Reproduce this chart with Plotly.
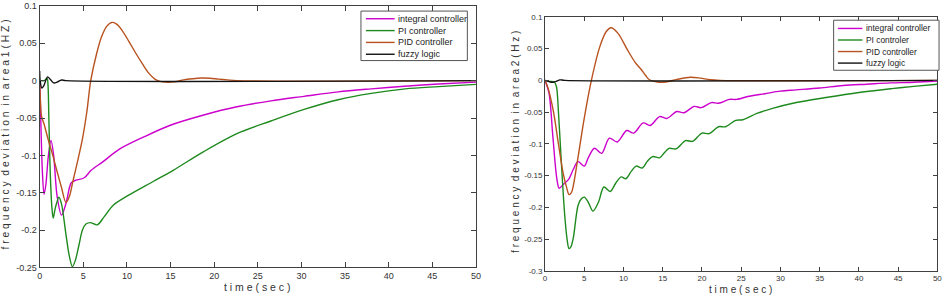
import plotly.graph_objects as go

W, H = 948, 302

# ---------------- data : left chart (area 1) ----------------
L_INT_T = [0, 0.1, 0.3, 0.5, 0.7, 1.0, 1.3, 1.6, 2.0, 2.5, 3.0, 3.6, 4.0, 5.1, 5.9, 7.2, 9.1, 12.0,
           14.9, 18.8, 22.6, 26.5, 30.3, 34.2, 38, 41.8, 45.7, 50]
L_INT_V = [0, -0.04, -0.12, -0.152, -0.14, -0.1, -0.08, -0.1, -0.155, -0.18, -0.165, -0.137, -0.134,
           -0.13, -0.12, -0.109, -0.092, -0.075, -0.060, -0.046, -0.035, -0.027, -0.021, -0.015,
           -0.011, -0.0075, -0.0045, -0.002]

L_PI_T = [0, 0.5, 0.85, 0.95, 1.05, 1.2, 1.4, 1.55, 1.8, 2.2, 2.5, 3.0, 3.4, 3.75, 4.1, 4.5, 4.9,
          5.3, 5.8, 6.6, 7.4, 8.4, 10.1, 13.0, 15.3, 18.8, 22.6, 26.5, 30.3, 34.2, 38, 41.9, 45.7, 50]
L_PI_V = [0, 0, 0.003, -0.005, -0.05, -0.12, -0.17, -0.184, -0.17, -0.156, -0.165, -0.205, -0.235,
          -0.249, -0.24, -0.22, -0.2, -0.192, -0.19, -0.193, -0.182, -0.167, -0.154, -0.135, -0.12,
          -0.095, -0.071, -0.054, -0.0385, -0.0255, -0.017, -0.011, -0.008, -0.005]

L_PID_T = [0, 0.1, 0.2, 0.5, 1.0, 1.5, 2.0, 2.5, 3.0, 3.4, 3.8, 4.4, 4.9, 5.4, 5.85, 6.5, 7.1, 7.7,
           8.3, 8.9, 9.4, 10.2, 11.0, 11.8, 12.5, 13.2, 13.8, 14.4, 15.5, 16.5, 17.5, 18.5, 19.5,
           20.5, 21.5, 22.6, 50]
L_PID_V = [0, -0.03, -0.047, -0.058, -0.08, -0.10, -0.122, -0.143, -0.163, -0.155, -0.135, -0.105,
           -0.078, -0.042, 0, 0.035, 0.059, 0.073, 0.078, 0.075, 0.068, 0.053, 0.037, 0.022, 0.01,
           0.002, -0.001, -0.002, -0.0015, 0.001, 0.0025, 0.0035, 0.0032, 0.002, 0.001, 0, 0]

L_FZ_T = [0, 0.05, 0.25, 0.5, 0.9, 1.2, 1.6, 2.0, 2.5, 3.0, 50]
L_FZ_V = [0.013, 0.0, -0.01, -0.006, 0.005, 0.002, -0.003, -0.002, 0.0008, 0, 0]

# ---------------- data : right chart (area 2) ----------------
R_INT_T = [0, 0.5, 1.0, 1.5, 1.8, 2.3, 3.0, 3.6, 4.2, 5.0, 5.5, 6.3, 7.2, 8.2, 9.2, 10.4, 11.3, 12.5,
           13.4, 14.6, 15.5, 16.8, 17.7, 19.0, 19.9, 21.2, 22.1, 23.5, 24.4, 26, 28, 30, 32, 35, 38,
           41, 44, 47, 50]
R_INT_V = [0, -0.02, -0.09, -0.155, -0.17, -0.164, -0.156, -0.14, -0.128, -0.135, -0.122, -0.107,
           -0.115, -0.091, -0.097, -0.079, -0.083, -0.067, -0.071, -0.057, -0.060, -0.049, -0.051,
           -0.041, -0.043, -0.035, -0.036, -0.030, -0.030, -0.025, -0.021, -0.017, -0.015, -0.012,
           -0.008, -0.006, -0.004, -0.003, -0.001]

R_PI_T = [0, 0.6, 1.2, 1.45, 1.7, 2.1, 2.5, 2.8, 3.05, 3.3, 3.6, 4.2, 4.6, 5.0, 5.5, 6.1, 6.8, 7.5,
          8.3, 9.0, 9.7, 10.3, 11.0, 11.6, 12.4, 13.0, 13.7, 14.6, 15.2, 15.8, 16.7, 17.9, 18.8,
          20.0, 20.9, 22.1, 23.0, 24.3, 25.2, 27, 29, 31.6, 35.8, 40, 44.2, 47, 50]
R_PI_V = [0, -0.0015, -0.003, -0.01, -0.049, -0.135, -0.212, -0.25, -0.265, -0.262, -0.248, -0.197,
          -0.187, -0.184, -0.192, -0.206, -0.192, -0.168, -0.175, -0.162, -0.152, -0.155, -0.143,
          -0.135, -0.138, -0.128, -0.12, -0.122, -0.114, -0.107, -0.108, -0.095, -0.096, -0.083,
          -0.084, -0.073, -0.073, -0.063, -0.062, -0.052, -0.044, -0.036, -0.027, -0.019, -0.013,
          -0.0095, -0.006]

R_PID_T = [0, 0.4, 1.06, 1.7, 2.3, 2.75, 3.05, 3.35, 3.6, 4.15, 5.0, 5.9, 7.0, 7.8, 8.4, 9.3, 10.5,
           11.5, 12.2, 12.8, 13.3, 14.3, 15.4, 16.8, 18.5, 19.8, 21.0, 22.3, 50]
R_PID_V = [0, -0.013, -0.049, -0.1, -0.146, -0.169, -0.18, -0.177, -0.166, -0.125, -0.059, 0, 0.054,
           0.077, 0.083, 0.074, 0.048, 0.028, 0.018, 0.008, 0.001, -0.0025, -0.0025, 0.0015, 0.005,
           0.0035, 0.001, 0, 0]

R_FZ_T = [0, 0.5, 1.0, 1.4, 1.9, 2.5, 50]
R_FZ_V = [0, -0.002, -0.003, -0.0015, 0.0008, 0, 0]

# ---------------- labels ----------------
NAMES_LEFT = ["integral controller", "PI controller", "PID controller", "fuzzy logic"]
NAMES_RIGHT = ["integral controller", "PI controler", "PID controller", "fuzzy logic"]
COLORS = ["#cc00cc", "#1e8a1e", "#b8521e", "#111111"]

X_TICKS = [0, 5, 10, 15, 20, 25, 30, 35, 40, 45, 50]
X_TICK_TEXT = ["0", "5", "10", "15", "20", "25", "30", "35", "40", "45", "50"]
L_Y_TICKS = [0.1, 0.05, 0, -0.05, -0.1, -0.15, -0.2, -0.25]
L_Y_TICK_TEXT = ["0.1", "0.05", "0", "-0.05", "-0.1", "-0.15", "-0.2", "-0.25"]
R_Y_TICKS = [0.1, 0.05, 0, -0.05, -0.1, -0.15, -0.2, -0.25, -0.3]
R_Y_TICK_TEXT = ["0.1", "0.05", "0", "-0.05", "-0.1", "-0.15", "-0.2", "-0.25", "-0.3"]

X_TITLE = "t i m e ( s e c )"
L_Y_TITLE = "f r e q u e n c y \u00a0d e v i a t i o n \u00a0i n \u00a0a r e a 1 ( H Z )"
R_Y_TITLE = "f r e q u e n c y \u00a0d e v i a t i o n \u00a0i n \u00a0a r e a 2 ( H z )"

FONT = "Liberation Sans, Arial, sans-serif"
AX_COL = "#404040"
TXT_COL = "#333333"


def px_x(p):
    return p / W


def px_y(p):
    return 1 - p / H


fig = go.Figure()

left_series = [(L_INT_T, L_INT_V), (L_PI_T, L_PI_V), (L_PID_T, L_PID_V), (L_FZ_T, L_FZ_V)]
right_series = [(R_INT_T, R_INT_V), (R_PI_T, R_PI_V), (R_PID_T, R_PID_V), (R_FZ_T, R_FZ_V)]

for (t, v), name, col in zip(left_series, NAMES_LEFT, COLORS):
    fig.add_trace(go.Scatter(x=t, y=v, name=name, mode="lines", xaxis="x", yaxis="y",
                             line=dict(color=col, width=1.4, shape="spline", smoothing=0.9),
                             showlegend=False))
for (t, v), name, col in zip(right_series, NAMES_RIGHT, COLORS):
    fig.add_trace(go.Scatter(x=t, y=v, name=name, mode="lines", xaxis="x2", yaxis="y2",
                             line=dict(color=col, width=1.4, shape="spline", smoothing=0.9),
                             showlegend=False))


def axis(domain, rng, tv, tt, anchor, fsize, tlen):
    return dict(domain=domain, range=rng, anchor=anchor, tickmode="array", tickvals=tv,
                ticktext=tt, ticks="inside", ticklen=tlen, tickcolor=AX_COL, tickwidth=1,
                showline=True, linecolor=AX_COL, linewidth=1, mirror="ticks",
                showgrid=False, zeroline=False,
                tickfont=dict(family=FONT, size=fsize, color=TXT_COL))


layout = dict(
    width=W, height=H, margin=dict(l=0, r=0, t=0, b=0),
    paper_bgcolor="white", plot_bgcolor="white",
    font=dict(family=FONT, color=TXT_COL),
    xaxis=axis([px_x(37), px_x(477)], [0, 50], X_TICKS, X_TICK_TEXT, "y", 9, 5),
    yaxis=axis([px_y(271.5), px_y(2)], [-0.25, 0.1], L_Y_TICKS, L_Y_TICK_TEXT, "x", 9, 5),
    xaxis2=axis([px_x(546.7), px_x(942.3)], [0, 50], X_TICKS, X_TICK_TEXT, "y2", 8, 4),
    yaxis2=axis([px_y(275), px_y(13.3)], [-0.3, 0.1], R_Y_TICKS, R_Y_TICK_TEXT, "x2", 8, 4),
    showlegend=False,
)
fig.update_layout(**layout)

annotations = []
shapes = []

# axis titles
annotations.append(dict(text=X_TITLE, x=px_x(257), y=px_y(292), xref="paper", yref="paper",
                        showarrow=False, xanchor="center", yanchor="middle",
                        font=dict(family=FONT, size=10.5, color=TXT_COL)))
annotations.append(dict(text=X_TITLE, x=px_x(744), y=px_y(294), xref="paper", yref="paper",
                        showarrow=False, xanchor="center", yanchor="middle",
                        font=dict(family=FONT, size=10, color=TXT_COL)))
annotations.append(dict(text=L_Y_TITLE, x=px_x(2.5), y=px_y(134), xref="paper", yref="paper",
                        showarrow=False, xanchor="center", yanchor="middle", textangle=-90,
                        font=dict(family=FONT, size=10.3, color=TXT_COL)))
annotations.append(dict(text=R_Y_TITLE, x=px_x(517), y=px_y(142.5), xref="paper", yref="paper",
                        showarrow=False, xanchor="center", yanchor="middle", textangle=-90,
                        font=dict(family=FONT, size=10, color=TXT_COL)))


# custom legends (compact, like the original)
def legend(box, y0, dy, lx0, lx1, tx, names, fsize):
    shapes.append(dict(type="rect", xref="paper", yref="paper", layer="above",
                       x0=px_x(box[0]), x1=px_x(box[2]), y0=px_y(box[3]), y1=px_y(box[1]),
                       line=dict(color="#555555", width=1), fillcolor="white"))
    for i, (name, col) in enumerate(zip(names, COLORS)):
        yy = y0 + dy * i
        shapes.append(dict(type="line", xref="paper", yref="paper", layer="above",
                           x0=px_x(lx0), x1=px_x(lx1), y0=px_y(yy), y1=px_y(yy),
                           line=dict(color=col, width=1.4)))
        annotations.append(dict(text=name, x=px_x(tx), y=px_y(yy), xref="paper", yref="paper",
                                showarrow=False, xanchor="left", yanchor="middle",
                                font=dict(family=FONT, size=fsize, color="#222222")))


legend((361, 7.3, 468.3, 58.3), 15.2, 12.2, 366, 395, 396.5, NAMES_LEFT, 9)
legend((837.7, 16.7, 944, 68.3), 25.2, 11.9, 842, 866.7, 868.5, NAMES_RIGHT, 8.4)

fig.update_layout(annotations=annotations, shapes=shapes)

fig.write_html("out.html")
